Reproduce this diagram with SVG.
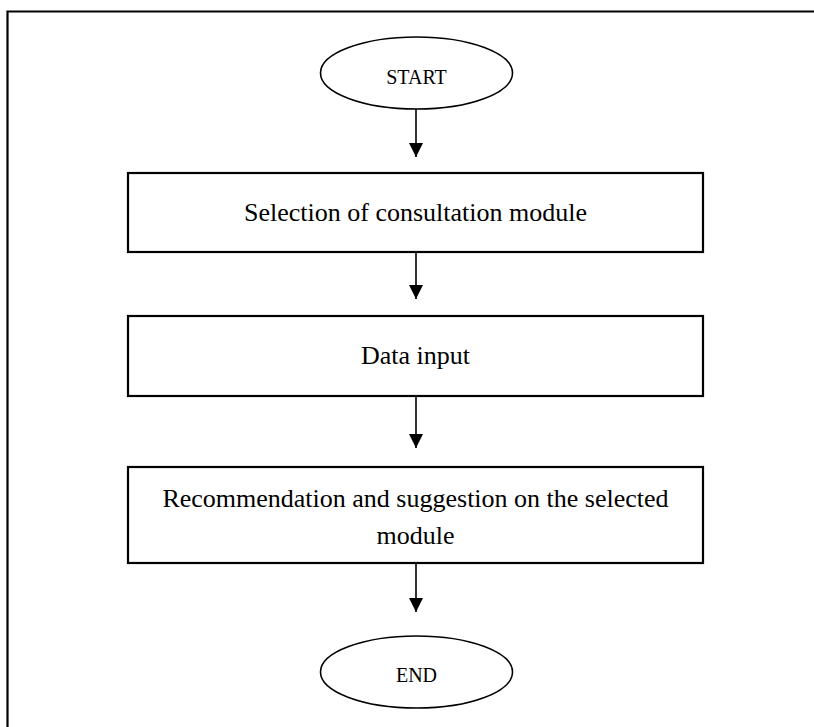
<svg xmlns="http://www.w3.org/2000/svg" width="814" height="727" viewBox="0 0 814 727">
<defs>
<style>
.box{fill:#fff;stroke:#000;stroke-width:2.2}
.oval{fill:#fff;stroke:#000;stroke-width:1.6}
.t{font-family:"Liberation Serif","Times New Roman",serif;fill:#000;text-anchor:middle}
.big{font-size:26px}
.small{font-size:20px}
.edge{stroke:#000;stroke-width:1.6;fill:none}
</style>
<marker id="ah" viewBox="0 0 14 15" refX="14" refY="7" markerWidth="14" markerHeight="15" markerUnits="userSpaceOnUse" orient="auto">
<path d="M0,0 L14,7 L0,14 Z" fill="#000"/>
</marker>
</defs>
<rect x="0" y="0" width="814" height="727" fill="#fff"/>
<path d="M7.5,740 L7.5,11.5 L820,11.5" fill="none" stroke="#000" stroke-width="2.2"/>
<g id="start">
<ellipse class="oval" cx="416.5" cy="73" rx="96" ry="36"/>
<text class="t small" x="416.5" y="84">START</text>
</g>
<g id="selection">
<rect class="box" x="128" y="173" width="575" height="79"/>
<text class="t big" x="415.5" y="221">Selection of consultation module</text>
</g>
<g id="data-input">
<rect class="box" x="128" y="316" width="575" height="80"/>
<text class="t big" x="415.5" y="364">Data input</text>
</g>
<g id="recommendation">
<rect class="box" x="128" y="467" width="575" height="96"/>
<text class="t big" x="415.5" y="507">Recommendation and suggestion on the selected</text>
<text class="t big" x="415.5" y="544">module</text>
</g>
<g id="end">
<ellipse class="oval" cx="416.5" cy="672" rx="96" ry="36"/>
<text class="t small" x="416.5" y="682">END</text>
</g>
<g id="connectors">
<line class="edge" x1="416" y1="109" x2="416" y2="157" marker-end="url(#ah)"/>
<line class="edge" x1="416" y1="252" x2="416" y2="299" marker-end="url(#ah)"/>
<line class="edge" x1="416" y1="396" x2="416" y2="448" marker-end="url(#ah)"/>
<line class="edge" x1="416" y1="563" x2="416" y2="612" marker-end="url(#ah)"/>
</g>
</svg>
